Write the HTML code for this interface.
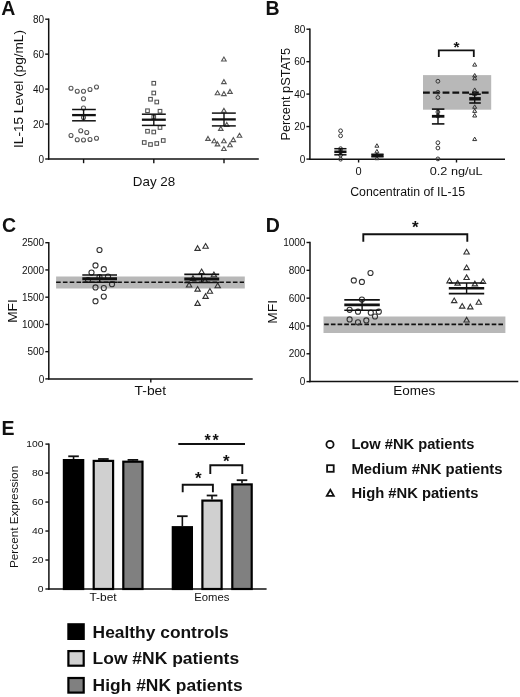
<!DOCTYPE html>
<html><head><meta charset="utf-8"><style>
html,body{margin:0;padding:0;background:#fff;}
body{width:520px;height:697px;overflow:hidden;}
svg{display:block;font-family:"Liberation Sans", sans-serif;will-change:transform;}
</style></head><body>
<svg width="520" height="697" viewBox="0 0 520 697">
<rect x="0" y="0" width="520" height="697" fill="#fff"/>
<text x="1.3" y="15" font-size="19.5" font-weight="bold" fill="#111">A</text>
<line x1="48.7" y1="18.5" x2="48.7" y2="159.7" stroke="#111" stroke-width="1.5"/>
<line x1="45.2" y1="19.2" x2="48.7" y2="19.2" stroke="#111" stroke-width="1.4"/>
<text x="44.1" y="22.8" font-size="10" text-anchor="end" fill="#111">80</text>
<line x1="45.2" y1="54.15" x2="48.7" y2="54.15" stroke="#111" stroke-width="1.4"/>
<text x="44.1" y="57.75" font-size="10" text-anchor="end" fill="#111">60</text>
<line x1="45.2" y1="89.1" x2="48.7" y2="89.1" stroke="#111" stroke-width="1.4"/>
<text x="44.1" y="92.7" font-size="10" text-anchor="end" fill="#111">40</text>
<line x1="45.2" y1="124.05" x2="48.7" y2="124.05" stroke="#111" stroke-width="1.4"/>
<text x="44.1" y="127.65" font-size="10" text-anchor="end" fill="#111">20</text>
<line x1="45.2" y1="159.0" x2="48.7" y2="159.0" stroke="#111" stroke-width="1.4"/>
<text x="44.1" y="162.6" font-size="10" text-anchor="end" fill="#111">0</text>
<line x1="48" y1="159.0" x2="258.8" y2="159.0" stroke="#111" stroke-width="1.5"/>
<line x1="83.6" y1="159.0" x2="83.6" y2="163.2" stroke="#111" stroke-width="1.4"/>
<line x1="153.8" y1="159.0" x2="153.8" y2="163.2" stroke="#111" stroke-width="1.4"/>
<line x1="224.0" y1="159.0" x2="224.0" y2="163.2" stroke="#111" stroke-width="1.4"/>
<text x="154.0" y="186.1" font-size="13" text-anchor="middle" textLength="42.4" lengthAdjust="spacingAndGlyphs" fill="#111">Day 28</text>
<text transform="translate(22.5,89.0) rotate(-90)" x="0" y="0" font-size="13.6" text-anchor="middle" fill="#111">IL-15 Level (pg/mL)</text>
<circle cx="71" cy="88.25" r="2.0" fill="none" stroke="#555" stroke-width="1.1"/>
<circle cx="77.25" cy="91.25" r="2.0" fill="none" stroke="#555" stroke-width="1.1"/>
<circle cx="83.5" cy="91.25" r="2.0" fill="none" stroke="#555" stroke-width="1.1"/>
<circle cx="90" cy="89.5" r="2.0" fill="none" stroke="#555" stroke-width="1.1"/>
<circle cx="96.5" cy="87" r="2.0" fill="none" stroke="#555" stroke-width="1.1"/>
<circle cx="83.5" cy="98.75" r="2.0" fill="none" stroke="#555" stroke-width="1.1"/>
<circle cx="83.5" cy="108" r="2.0" fill="none" stroke="#555" stroke-width="1.1"/>
<circle cx="83.5" cy="117.5" r="2.0" fill="none" stroke="#555" stroke-width="1.1"/>
<circle cx="80.75" cy="130.75" r="2.0" fill="none" stroke="#555" stroke-width="1.1"/>
<circle cx="86.75" cy="132.5" r="2.0" fill="none" stroke="#555" stroke-width="1.1"/>
<circle cx="71" cy="135.5" r="2.0" fill="none" stroke="#555" stroke-width="1.1"/>
<circle cx="77.25" cy="139.75" r="2.0" fill="none" stroke="#555" stroke-width="1.1"/>
<circle cx="83.5" cy="140" r="2.0" fill="none" stroke="#555" stroke-width="1.1"/>
<circle cx="90" cy="139.5" r="2.0" fill="none" stroke="#555" stroke-width="1.1"/>
<circle cx="96.5" cy="138.25" r="2.0" fill="none" stroke="#555" stroke-width="1.1"/>
<rect x="151.95" y="81.45" width="3.6" height="3.6" fill="none" stroke="#555" stroke-width="1.1"/>
<rect x="151.95" y="91.20" width="3.6" height="3.6" fill="none" stroke="#555" stroke-width="1.1"/>
<rect x="148.70" y="97.45" width="3.6" height="3.6" fill="none" stroke="#555" stroke-width="1.1"/>
<rect x="154.95" y="100.20" width="3.6" height="3.6" fill="none" stroke="#555" stroke-width="1.1"/>
<rect x="145.70" y="108.95" width="3.6" height="3.6" fill="none" stroke="#555" stroke-width="1.1"/>
<rect x="158.20" y="109.45" width="3.6" height="3.6" fill="none" stroke="#555" stroke-width="1.1"/>
<rect x="151.95" y="115.20" width="3.6" height="3.6" fill="none" stroke="#555" stroke-width="1.1"/>
<rect x="145.70" y="129.45" width="3.6" height="3.6" fill="none" stroke="#555" stroke-width="1.1"/>
<rect x="151.95" y="130.20" width="3.6" height="3.6" fill="none" stroke="#555" stroke-width="1.1"/>
<rect x="158.20" y="125.70" width="3.6" height="3.6" fill="none" stroke="#555" stroke-width="1.1"/>
<rect x="142.45" y="140.70" width="3.6" height="3.6" fill="none" stroke="#555" stroke-width="1.1"/>
<rect x="148.70" y="142.70" width="3.6" height="3.6" fill="none" stroke="#555" stroke-width="1.1"/>
<rect x="154.95" y="141.70" width="3.6" height="3.6" fill="none" stroke="#555" stroke-width="1.1"/>
<rect x="161.45" y="138.70" width="3.6" height="3.6" fill="none" stroke="#555" stroke-width="1.1"/>
<path d="M223.90 57.01 L226.20 60.99 L221.60 60.99 Z" fill="none" stroke="#555" stroke-width="1.1" stroke-linejoin="miter"/>
<path d="M223.90 79.61 L226.20 83.59 L221.60 83.59 Z" fill="none" stroke="#555" stroke-width="1.1" stroke-linejoin="miter"/>
<path d="M217.50 90.81 L219.80 94.79 L215.20 94.79 Z" fill="none" stroke="#555" stroke-width="1.1" stroke-linejoin="miter"/>
<path d="M223.90 91.61 L226.20 95.59 L221.60 95.59 Z" fill="none" stroke="#555" stroke-width="1.1" stroke-linejoin="miter"/>
<path d="M230.00 89.41 L232.30 93.39 L227.70 93.39 Z" fill="none" stroke="#555" stroke-width="1.1" stroke-linejoin="miter"/>
<path d="M223.90 108.31 L226.20 112.29 L221.60 112.29 Z" fill="none" stroke="#555" stroke-width="1.1" stroke-linejoin="miter"/>
<path d="M226.80 122.41 L229.10 126.39 L224.50 126.39 Z" fill="none" stroke="#555" stroke-width="1.1" stroke-linejoin="miter"/>
<path d="M220.80 126.41 L223.10 130.39 L218.50 130.39 Z" fill="none" stroke="#555" stroke-width="1.1" stroke-linejoin="miter"/>
<path d="M208.00 136.41 L210.30 140.39 L205.70 140.39 Z" fill="none" stroke="#555" stroke-width="1.1" stroke-linejoin="miter"/>
<path d="M214.20 138.81 L216.50 142.79 L211.90 142.79 Z" fill="none" stroke="#555" stroke-width="1.1" stroke-linejoin="miter"/>
<path d="M217.50 141.91 L219.80 145.89 L215.20 145.89 Z" fill="none" stroke="#555" stroke-width="1.1" stroke-linejoin="miter"/>
<path d="M223.90 138.81 L226.20 142.79 L221.60 142.79 Z" fill="none" stroke="#555" stroke-width="1.1" stroke-linejoin="miter"/>
<path d="M230.00 142.71 L232.30 146.69 L227.70 146.69 Z" fill="none" stroke="#555" stroke-width="1.1" stroke-linejoin="miter"/>
<path d="M233.30 137.61 L235.60 141.59 L231.00 141.59 Z" fill="none" stroke="#555" stroke-width="1.1" stroke-linejoin="miter"/>
<path d="M239.50 133.31 L241.80 137.29 L237.20 137.29 Z" fill="none" stroke="#555" stroke-width="1.1" stroke-linejoin="miter"/>
<path d="M223.90 146.51 L226.20 150.49 L221.60 150.49 Z" fill="none" stroke="#555" stroke-width="1.1" stroke-linejoin="miter"/>
<line x1="83.6" y1="109.5" x2="83.6" y2="120.8" stroke="#111" stroke-width="1.4"/>
<line x1="72.1" y1="109.5" x2="95.8" y2="109.5" stroke="#111" stroke-width="1.5"/>
<line x1="72.1" y1="120.8" x2="95.8" y2="120.8" stroke="#111" stroke-width="1.5"/>
<line x1="72.1" y1="115.1" x2="95.8" y2="115.1" stroke="#111" stroke-width="2.3"/>
<line x1="153.8" y1="114.2" x2="153.8" y2="125.4" stroke="#111" stroke-width="1.4"/>
<line x1="141.9" y1="114.2" x2="165.8" y2="114.2" stroke="#111" stroke-width="1.5"/>
<line x1="141.9" y1="125.4" x2="165.8" y2="125.4" stroke="#111" stroke-width="1.5"/>
<line x1="141.9" y1="119.7" x2="165.8" y2="119.7" stroke="#111" stroke-width="2.3"/>
<line x1="224.0" y1="113.1" x2="224.0" y2="125.9" stroke="#111" stroke-width="1.4"/>
<line x1="211.9" y1="113.1" x2="235.8" y2="113.1" stroke="#111" stroke-width="1.5"/>
<line x1="211.9" y1="125.9" x2="235.8" y2="125.9" stroke="#111" stroke-width="1.5"/>
<line x1="211.9" y1="119.4" x2="235.8" y2="119.4" stroke="#111" stroke-width="2.3"/>
<text x="265.6" y="15" font-size="19.5" font-weight="bold" fill="#111">B</text>
<line x1="309.9" y1="28.5" x2="309.9" y2="159.79999999999998" stroke="#111" stroke-width="1.5"/>
<line x1="306.4" y1="29.2" x2="309.9" y2="29.2" stroke="#111" stroke-width="1.4"/>
<text x="305.3" y="32.8" font-size="10" text-anchor="end" fill="#111">80</text>
<line x1="306.4" y1="61.65" x2="309.9" y2="61.65" stroke="#111" stroke-width="1.4"/>
<text x="305.3" y="65.25" font-size="10" text-anchor="end" fill="#111">60</text>
<line x1="306.4" y1="94.1" x2="309.9" y2="94.1" stroke="#111" stroke-width="1.4"/>
<text x="305.3" y="97.7" font-size="10" text-anchor="end" fill="#111">40</text>
<line x1="306.4" y1="126.55" x2="309.9" y2="126.55" stroke="#111" stroke-width="1.4"/>
<text x="305.3" y="130.15" font-size="10" text-anchor="end" fill="#111">20</text>
<line x1="306.4" y1="159.1" x2="309.9" y2="159.1" stroke="#111" stroke-width="1.4"/>
<text x="305.3" y="162.7" font-size="10" text-anchor="end" fill="#111">0</text>
<line x1="309.2" y1="159.2" x2="505" y2="159.2" stroke="#111" stroke-width="1.5"/>
<line x1="358.6" y1="159.2" x2="358.6" y2="162.5" stroke="#111" stroke-width="1.4"/>
<line x1="456.5" y1="159.2" x2="456.5" y2="162.5" stroke="#111" stroke-width="1.4"/>
<text x="358.6" y="175" font-size="11" text-anchor="middle" fill="#111">0</text>
<text x="456.2" y="175" font-size="11.5" text-anchor="middle" textLength="53" lengthAdjust="spacingAndGlyphs" fill="#111">0.2 ng/uL</text>
<text x="350.2" y="195.5" font-size="12.3" textLength="115" lengthAdjust="spacingAndGlyphs" fill="#111">Concentratin of IL-15</text>
<text transform="translate(289.8,94.2) rotate(-90)" x="0" y="0" font-size="12.8" text-anchor="middle" fill="#111">Percent pSTAT5</text>
<rect x="423" y="75.1" width="68.2" height="34.6" fill="#b8b8b8"/>
<line x1="423" y1="92.6" x2="490.5" y2="92.6" stroke="#111" stroke-width="2.2" stroke-dasharray="6.8 3.0"/>
<circle cx="340.6" cy="130.8" r="1.9" fill="none" stroke="#333" stroke-width="1.0"/>
<circle cx="340.6" cy="135.8" r="1.9" fill="none" stroke="#333" stroke-width="1.0"/>
<circle cx="340.6" cy="148.7" r="1.9" fill="none" stroke="#333" stroke-width="1.0"/>
<circle cx="340.6" cy="151.5" r="1.9" fill="none" stroke="#333" stroke-width="1.0"/>
<circle cx="340.6" cy="155" r="1.9" fill="none" stroke="#333" stroke-width="1.0"/>
<circle cx="340.6" cy="159.2" r="1.9" fill="none" stroke="#333" stroke-width="1.0"/>
<path d="M376.90 143.72 L378.90 147.19 L374.90 147.19 Z" fill="none" stroke="#333" stroke-width="1.0" stroke-linejoin="miter"/>
<path d="M376.90 149.42 L378.90 152.89 L374.90 152.89 Z" fill="none" stroke="#333" stroke-width="1.0" stroke-linejoin="miter"/>
<path d="M376.90 152.92 L378.90 156.39 L374.90 156.39 Z" fill="none" stroke="#333" stroke-width="1.0" stroke-linejoin="miter"/>
<path d="M376.90 156.22 L378.90 159.69 L374.90 159.69 Z" fill="none" stroke="#333" stroke-width="1.0" stroke-linejoin="miter"/>
<circle cx="437.9" cy="81.25" r="1.9" fill="none" stroke="#333" stroke-width="1.0"/>
<circle cx="437.9" cy="92.25" r="1.9" fill="none" stroke="#333" stroke-width="1.0"/>
<circle cx="437.9" cy="97.5" r="1.9" fill="none" stroke="#333" stroke-width="1.0"/>
<circle cx="437.9" cy="112" r="1.9" fill="none" stroke="#333" stroke-width="1.0"/>
<circle cx="437.9" cy="116" r="1.9" fill="none" stroke="#333" stroke-width="1.0"/>
<circle cx="437.9" cy="142.7" r="1.9" fill="none" stroke="#333" stroke-width="1.0"/>
<circle cx="437.9" cy="148" r="1.9" fill="none" stroke="#333" stroke-width="1.0"/>
<circle cx="437.9" cy="158.9" r="1.9" fill="none" stroke="#333" stroke-width="1.0"/>
<path d="M474.70 62.67 L476.70 66.14 L472.70 66.14 Z" fill="none" stroke="#333" stroke-width="1.0" stroke-linejoin="miter"/>
<path d="M474.70 73.52 L476.70 76.99 L472.70 76.99 Z" fill="none" stroke="#333" stroke-width="1.0" stroke-linejoin="miter"/>
<path d="M474.70 76.42 L476.70 79.89 L472.70 79.89 Z" fill="none" stroke="#333" stroke-width="1.0" stroke-linejoin="miter"/>
<path d="M474.70 87.92 L476.70 91.39 L472.70 91.39 Z" fill="none" stroke="#333" stroke-width="1.0" stroke-linejoin="miter"/>
<path d="M474.70 91.92 L476.70 95.39 L472.70 95.39 Z" fill="none" stroke="#333" stroke-width="1.0" stroke-linejoin="miter"/>
<path d="M474.70 104.82 L476.70 108.29 L472.70 108.29 Z" fill="none" stroke="#333" stroke-width="1.0" stroke-linejoin="miter"/>
<path d="M474.70 108.92 L476.70 112.39 L472.70 112.39 Z" fill="none" stroke="#333" stroke-width="1.0" stroke-linejoin="miter"/>
<path d="M474.70 113.52 L476.70 116.99 L472.70 116.99 Z" fill="none" stroke="#333" stroke-width="1.0" stroke-linejoin="miter"/>
<path d="M474.70 137.12 L476.70 140.59 L472.70 140.59 Z" fill="none" stroke="#333" stroke-width="1.0" stroke-linejoin="miter"/>
<line x1="340.5" y1="148.7" x2="340.5" y2="154.8" stroke="#111" stroke-width="1.4"/>
<line x1="334.3" y1="148.7" x2="346.5" y2="148.7" stroke="#111" stroke-width="1.5"/>
<line x1="334.3" y1="154.8" x2="346.5" y2="154.8" stroke="#111" stroke-width="1.5"/>
<line x1="334.3" y1="151.8" x2="346.5" y2="151.8" stroke="#111" stroke-width="2.6"/>
<line x1="377.3" y1="154.0" x2="377.3" y2="157.0" stroke="#111" stroke-width="1.4"/>
<line x1="371.3" y1="154.0" x2="383.6" y2="154.0" stroke="#111" stroke-width="1.0"/>
<line x1="371.3" y1="157.0" x2="383.6" y2="157.0" stroke="#111" stroke-width="1.0"/>
<line x1="371.3" y1="155.5" x2="383.6" y2="155.5" stroke="#111" stroke-width="3.0"/>
<line x1="438.0" y1="109.1" x2="438.0" y2="123.9" stroke="#111" stroke-width="1.4"/>
<line x1="431.9" y1="109.1" x2="444.4" y2="109.1" stroke="#111" stroke-width="1.6"/>
<line x1="431.9" y1="123.9" x2="444.4" y2="123.9" stroke="#111" stroke-width="1.6"/>
<line x1="431.9" y1="116.3" x2="444.4" y2="116.3" stroke="#111" stroke-width="2.8"/>
<line x1="474.7" y1="94.2" x2="474.7" y2="103.0" stroke="#111" stroke-width="1.4"/>
<line x1="469.2" y1="94.2" x2="480.8" y2="94.2" stroke="#111" stroke-width="1.6"/>
<line x1="469.2" y1="103.0" x2="480.8" y2="103.0" stroke="#111" stroke-width="1.6"/>
<line x1="469.2" y1="98.8" x2="480.8" y2="98.8" stroke="#111" stroke-width="3.4"/>
<path d="M438.8 57 V50.4 H473.8 V57" fill="none" stroke="#111" stroke-width="1.8"/>
<text x="456.5" y="52.18" font-size="15.5" text-anchor="middle" font-weight="bold" fill="#111">*</text>
<text x="2.0" y="231.6" font-size="19.5" font-weight="bold" fill="#111">C</text>
<line x1="48.8" y1="242.0" x2="48.8" y2="379.59999999999997" stroke="#111" stroke-width="1.5"/>
<line x1="45.3" y1="242.7" x2="48.8" y2="242.7" stroke="#111" stroke-width="1.4"/>
<text x="44.2" y="246.3" font-size="10" text-anchor="end" fill="#111">2500</text>
<line x1="45.3" y1="269.94" x2="48.8" y2="269.94" stroke="#111" stroke-width="1.4"/>
<text x="44.2" y="273.54" font-size="10" text-anchor="end" fill="#111">2000</text>
<line x1="45.3" y1="297.18" x2="48.8" y2="297.18" stroke="#111" stroke-width="1.4"/>
<text x="44.2" y="300.78" font-size="10" text-anchor="end" fill="#111">1500</text>
<line x1="45.3" y1="324.42" x2="48.8" y2="324.42" stroke="#111" stroke-width="1.4"/>
<text x="44.2" y="328.02" font-size="10" text-anchor="end" fill="#111">1000</text>
<line x1="45.3" y1="351.66" x2="48.8" y2="351.66" stroke="#111" stroke-width="1.4"/>
<text x="44.2" y="355.26" font-size="10" text-anchor="end" fill="#111">500</text>
<line x1="45.3" y1="378.9" x2="48.8" y2="378.9" stroke="#111" stroke-width="1.4"/>
<text x="44.2" y="382.5" font-size="10" text-anchor="end" fill="#111">0</text>
<line x1="48.1" y1="378.9" x2="252.7" y2="378.9" stroke="#111" stroke-width="1.5"/>
<line x1="150.8" y1="378.9" x2="150.8" y2="382.6" stroke="#111" stroke-width="1.4"/>
<text x="150.4" y="395.4" font-size="12.8" text-anchor="middle" textLength="31.6" lengthAdjust="spacingAndGlyphs" fill="#111">T-bet</text>
<text transform="translate(16.5,311.0) rotate(-90)" x="0" y="0" font-size="13" text-anchor="middle" textLength="23.6" lengthAdjust="spacingAndGlyphs" fill="#111">MFI</text>
<rect x="56.1" y="276.5" width="188.7" height="12.0" fill="#b8b8b8"/>
<line x1="56.1" y1="282.2" x2="244" y2="282.2" stroke="#111" stroke-width="1.6" stroke-dasharray="4.6 2.2"/>
<circle cx="99.5" cy="250" r="2.55" fill="none" stroke="#333" stroke-width="1.1"/>
<circle cx="95.5" cy="265.4" r="2.55" fill="none" stroke="#333" stroke-width="1.1"/>
<circle cx="103.8" cy="269.2" r="2.55" fill="none" stroke="#333" stroke-width="1.1"/>
<circle cx="91.5" cy="272.6" r="2.55" fill="none" stroke="#333" stroke-width="1.1"/>
<circle cx="112" cy="284.2" r="2.55" fill="none" stroke="#333" stroke-width="1.1"/>
<circle cx="95.5" cy="287.4" r="2.55" fill="none" stroke="#333" stroke-width="1.1"/>
<circle cx="103.8" cy="288" r="2.55" fill="none" stroke="#333" stroke-width="1.1"/>
<circle cx="103.8" cy="296.6" r="2.55" fill="none" stroke="#333" stroke-width="1.1"/>
<circle cx="95.5" cy="301.2" r="2.55" fill="none" stroke="#333" stroke-width="1.1"/>
<circle cx="99.5" cy="277" r="2.55" fill="none" stroke="#333" stroke-width="1.1"/>
<circle cx="108" cy="276.5" r="2.55" fill="none" stroke="#333" stroke-width="1.1"/>
<circle cx="88" cy="280" r="2.55" fill="none" stroke="#333" stroke-width="1.1"/>
<path d="M197.60 245.69 L200.30 250.37 L194.90 250.37 Z" fill="none" stroke="#333" stroke-width="1.1" stroke-linejoin="miter"/>
<path d="M205.60 243.59 L208.30 248.27 L202.90 248.27 Z" fill="none" stroke="#333" stroke-width="1.1" stroke-linejoin="miter"/>
<path d="M201.60 268.99 L204.30 273.67 L198.90 273.67 Z" fill="none" stroke="#333" stroke-width="1.1" stroke-linejoin="miter"/>
<path d="M213.90 272.09 L216.60 276.77 L211.20 276.77 Z" fill="none" stroke="#333" stroke-width="1.1" stroke-linejoin="miter"/>
<path d="M189.10 282.29 L191.80 286.97 L186.40 286.97 Z" fill="none" stroke="#333" stroke-width="1.1" stroke-linejoin="miter"/>
<path d="M217.70 283.09 L220.40 287.77 L215.00 287.77 Z" fill="none" stroke="#333" stroke-width="1.1" stroke-linejoin="miter"/>
<path d="M197.60 286.49 L200.30 291.17 L194.90 291.17 Z" fill="none" stroke="#333" stroke-width="1.1" stroke-linejoin="miter"/>
<path d="M209.90 288.59 L212.60 293.27 L207.20 293.27 Z" fill="none" stroke="#333" stroke-width="1.1" stroke-linejoin="miter"/>
<path d="M205.60 293.69 L208.30 298.37 L202.90 298.37 Z" fill="none" stroke="#333" stroke-width="1.1" stroke-linejoin="miter"/>
<path d="M197.60 300.69 L200.30 305.37 L194.90 305.37 Z" fill="none" stroke="#333" stroke-width="1.1" stroke-linejoin="miter"/>
<path d="M193.00 275.69 L195.70 280.37 L190.30 280.37 Z" fill="none" stroke="#333" stroke-width="1.1" stroke-linejoin="miter"/>
<path d="M205.00 277.69 L207.70 282.37 L202.30 282.37 Z" fill="none" stroke="#333" stroke-width="1.1" stroke-linejoin="miter"/>
<line x1="99.7" y1="275" x2="99.7" y2="282.3" stroke="#111" stroke-width="1.4"/>
<line x1="82.3" y1="275" x2="117" y2="275" stroke="#111" stroke-width="1.6"/>
<line x1="82.3" y1="282.3" x2="117" y2="282.3" stroke="#111" stroke-width="1.6"/>
<line x1="82.3" y1="278.8" x2="117" y2="278.8" stroke="#111" stroke-width="3.0"/>
<line x1="201.7" y1="274.4" x2="201.7" y2="282.5" stroke="#111" stroke-width="1.4"/>
<line x1="184.3" y1="274.4" x2="219.2" y2="274.4" stroke="#111" stroke-width="1.6"/>
<line x1="184.3" y1="282.5" x2="219.2" y2="282.5" stroke="#111" stroke-width="1.6"/>
<line x1="184.3" y1="279" x2="219.2" y2="279" stroke="#111" stroke-width="3.0"/>
<text x="265.8" y="231.8" font-size="19.5" font-weight="bold" fill="#111">D</text>
<line x1="310.0" y1="241.8" x2="310.0" y2="382.3" stroke="#111" stroke-width="1.5"/>
<line x1="306.5" y1="242.5" x2="310.0" y2="242.5" stroke="#111" stroke-width="1.4"/>
<text x="305.4" y="246.1" font-size="10" text-anchor="end" fill="#111">1000</text>
<line x1="306.5" y1="270.32" x2="310.0" y2="270.32" stroke="#111" stroke-width="1.4"/>
<text x="305.4" y="273.92" font-size="10" text-anchor="end" fill="#111">800</text>
<line x1="306.5" y1="298.14" x2="310.0" y2="298.14" stroke="#111" stroke-width="1.4"/>
<text x="305.4" y="301.74" font-size="10" text-anchor="end" fill="#111">600</text>
<line x1="306.5" y1="325.96" x2="310.0" y2="325.96" stroke="#111" stroke-width="1.4"/>
<text x="305.4" y="329.56" font-size="10" text-anchor="end" fill="#111">400</text>
<line x1="306.5" y1="353.78" x2="310.0" y2="353.78" stroke="#111" stroke-width="1.4"/>
<text x="305.4" y="357.38" font-size="10" text-anchor="end" fill="#111">200</text>
<line x1="306.5" y1="381.6" x2="310.0" y2="381.6" stroke="#111" stroke-width="1.4"/>
<text x="305.4" y="385.2" font-size="10" text-anchor="end" fill="#111">0</text>
<line x1="309.3" y1="381.6" x2="518.3" y2="381.6" stroke="#111" stroke-width="1.5"/>
<text x="414.3" y="395.2" font-size="13" text-anchor="middle" textLength="42" lengthAdjust="spacingAndGlyphs" fill="#111">Eomes</text>
<text transform="translate(276.8,311.9) rotate(-90)" x="0" y="0" font-size="13.3" text-anchor="middle" textLength="23.8" lengthAdjust="spacingAndGlyphs" fill="#111">MFI</text>
<rect x="323.5" y="316.5" width="181.9" height="16.5" fill="#b8b8b8"/>
<line x1="324.2" y1="324.4" x2="505" y2="324.4" stroke="#111" stroke-width="1.6" stroke-dasharray="4.6 2.1"/>
<circle cx="353.8" cy="280.4" r="2.55" fill="none" stroke="#333" stroke-width="1.1"/>
<circle cx="361.9" cy="281.9" r="2.55" fill="none" stroke="#333" stroke-width="1.1"/>
<circle cx="370.5" cy="273" r="2.55" fill="none" stroke="#333" stroke-width="1.1"/>
<circle cx="361.9" cy="299.6" r="2.55" fill="none" stroke="#333" stroke-width="1.1"/>
<circle cx="349.6" cy="309.8" r="2.55" fill="none" stroke="#333" stroke-width="1.1"/>
<circle cx="358" cy="311.7" r="2.55" fill="none" stroke="#333" stroke-width="1.1"/>
<circle cx="370.8" cy="312.7" r="2.55" fill="none" stroke="#333" stroke-width="1.1"/>
<circle cx="378.8" cy="311.7" r="2.55" fill="none" stroke="#333" stroke-width="1.1"/>
<circle cx="375" cy="316.5" r="2.55" fill="none" stroke="#333" stroke-width="1.1"/>
<circle cx="349.6" cy="319.4" r="2.55" fill="none" stroke="#333" stroke-width="1.1"/>
<circle cx="358" cy="322.3" r="2.55" fill="none" stroke="#333" stroke-width="1.1"/>
<circle cx="366.3" cy="320.4" r="2.55" fill="none" stroke="#333" stroke-width="1.1"/>
<path d="M466.60 249.29 L469.30 253.97 L463.90 253.97 Z" fill="none" stroke="#333" stroke-width="1.1" stroke-linejoin="miter"/>
<path d="M466.60 264.99 L469.30 269.67 L463.90 269.67 Z" fill="none" stroke="#333" stroke-width="1.1" stroke-linejoin="miter"/>
<path d="M466.60 274.89 L469.30 279.57 L463.90 279.57 Z" fill="none" stroke="#333" stroke-width="1.1" stroke-linejoin="miter"/>
<path d="M449.50 278.19 L452.20 282.87 L446.80 282.87 Z" fill="none" stroke="#333" stroke-width="1.1" stroke-linejoin="miter"/>
<path d="M457.60 280.49 L460.30 285.17 L454.90 285.17 Z" fill="none" stroke="#333" stroke-width="1.1" stroke-linejoin="miter"/>
<path d="M474.90 281.19 L477.60 285.87 L472.20 285.87 Z" fill="none" stroke="#333" stroke-width="1.1" stroke-linejoin="miter"/>
<path d="M483.00 278.89 L485.70 283.57 L480.30 283.57 Z" fill="none" stroke="#333" stroke-width="1.1" stroke-linejoin="miter"/>
<path d="M454.20 297.99 L456.90 302.67 L451.50 302.67 Z" fill="none" stroke="#333" stroke-width="1.1" stroke-linejoin="miter"/>
<path d="M462.20 303.49 L464.90 308.17 L459.50 308.17 Z" fill="none" stroke="#333" stroke-width="1.1" stroke-linejoin="miter"/>
<path d="M470.30 304.19 L473.00 308.87 L467.60 308.87 Z" fill="none" stroke="#333" stroke-width="1.1" stroke-linejoin="miter"/>
<path d="M478.80 299.59 L481.50 304.27 L476.10 304.27 Z" fill="none" stroke="#333" stroke-width="1.1" stroke-linejoin="miter"/>
<path d="M466.60 317.39 L469.30 322.07 L463.90 322.07 Z" fill="none" stroke="#333" stroke-width="1.1" stroke-linejoin="miter"/>
<line x1="362.1" y1="299.9" x2="362.1" y2="310.3" stroke="#111" stroke-width="1.4"/>
<line x1="344.3" y1="299.9" x2="379.8" y2="299.9" stroke="#111" stroke-width="1.6"/>
<line x1="344.3" y1="310.3" x2="379.8" y2="310.3" stroke="#111" stroke-width="1.6"/>
<line x1="344.3" y1="304.9" x2="379.8" y2="304.9" stroke="#111" stroke-width="2.6"/>
<line x1="466.6" y1="283.0" x2="466.6" y2="293.6" stroke="#111" stroke-width="1.4"/>
<line x1="448.8" y1="283.0" x2="484.2" y2="283.0" stroke="#111" stroke-width="1.6"/>
<line x1="448.8" y1="293.6" x2="484.2" y2="293.6" stroke="#111" stroke-width="1.6"/>
<line x1="448.8" y1="288.2" x2="484.2" y2="288.2" stroke="#111" stroke-width="2.6"/>
<path d="M363.3 241.8 V234.3 H467.3 V241.8" fill="none" stroke="#111" stroke-width="1.9"/>
<text x="415.4" y="233.12" font-size="17" text-anchor="middle" font-weight="bold" fill="#111">*</text>
<text x="1.6" y="434.8" font-size="19.5" font-weight="bold" fill="#111">E</text>
<line x1="48.9" y1="443.40000000000003" x2="48.9" y2="589.7" stroke="#111" stroke-width="1.5"/>
<line x1="45.4" y1="444.1" x2="48.9" y2="444.1" stroke="#111" stroke-width="1.4"/>
<text x="43.5" y="447.45" font-size="9.3" text-anchor="end" textLength="17.25" lengthAdjust="spacingAndGlyphs" fill="#111">100</text>
<line x1="45.4" y1="473.08" x2="48.9" y2="473.08" stroke="#111" stroke-width="1.4"/>
<text x="43.5" y="476.43" font-size="9.3" text-anchor="end" textLength="11.5" lengthAdjust="spacingAndGlyphs" fill="#111">80</text>
<line x1="45.4" y1="502.06" x2="48.9" y2="502.06" stroke="#111" stroke-width="1.4"/>
<text x="43.5" y="505.41" font-size="9.3" text-anchor="end" textLength="11.5" lengthAdjust="spacingAndGlyphs" fill="#111">60</text>
<line x1="45.4" y1="531.04" x2="48.9" y2="531.04" stroke="#111" stroke-width="1.4"/>
<text x="43.5" y="534.39" font-size="9.3" text-anchor="end" textLength="11.5" lengthAdjust="spacingAndGlyphs" fill="#111">40</text>
<line x1="45.4" y1="560.02" x2="48.9" y2="560.02" stroke="#111" stroke-width="1.4"/>
<text x="43.5" y="563.37" font-size="9.3" text-anchor="end" textLength="11.5" lengthAdjust="spacingAndGlyphs" fill="#111">20</text>
<line x1="45.4" y1="589.0" x2="48.9" y2="589.0" stroke="#111" stroke-width="1.4"/>
<text x="43.5" y="592.35" font-size="9.3" text-anchor="end" textLength="5.75" lengthAdjust="spacingAndGlyphs" fill="#111">0</text>
<line x1="48.2" y1="589.0" x2="266.6" y2="589.0" stroke="#111" stroke-width="1.5"/>
<text x="103.0" y="600.8" font-size="11" text-anchor="middle" textLength="27.2" lengthAdjust="spacingAndGlyphs" fill="#111">T-bet</text>
<text x="211.9" y="600.8" font-size="11" text-anchor="middle" textLength="35.2" lengthAdjust="spacingAndGlyphs" fill="#111">Eomes</text>
<text transform="translate(17.5,516.95) rotate(-90)" x="0" y="0" font-size="11.8" text-anchor="middle" fill="#111">Percent Expression</text>
<line x1="73.55" y1="456.3" x2="73.55" y2="459" stroke="#111" stroke-width="1.6"/>
<line x1="68.25" y1="456.3" x2="78.85" y2="456.3" stroke="#111" stroke-width="1.8"/>
<rect x="63.9" y="460.1" width="19.3" height="128.9" fill="#000" stroke="#000" stroke-width="2.2"/>
<line x1="103.4" y1="459.0" x2="103.4" y2="459.8" stroke="#111" stroke-width="1.6"/>
<line x1="98.10000000000001" y1="459.0" x2="108.7" y2="459.0" stroke="#111" stroke-width="1.8"/>
<rect x="93.69999999999999" y="460.90000000000003" width="19.40000000000001" height="128.1" fill="#d0d0d0" stroke="#000" stroke-width="2.2"/>
<line x1="132.9" y1="459.9" x2="132.9" y2="460.6" stroke="#111" stroke-width="1.6"/>
<line x1="127.60000000000001" y1="459.9" x2="138.20000000000002" y2="459.9" stroke="#111" stroke-width="1.8"/>
<rect x="123.3" y="461.70000000000005" width="19.199999999999992" height="127.29999999999998" fill="#808080" stroke="#000" stroke-width="2.2"/>
<line x1="182.35" y1="516.2" x2="182.35" y2="526.1" stroke="#111" stroke-width="1.6"/>
<line x1="177.04999999999998" y1="516.2" x2="187.65" y2="516.2" stroke="#111" stroke-width="1.8"/>
<rect x="172.79999999999998" y="527.2" width="19.100000000000012" height="61.799999999999976" fill="#000" stroke="#000" stroke-width="2.2"/>
<line x1="212.0" y1="495.5" x2="212.0" y2="499.5" stroke="#111" stroke-width="1.6"/>
<line x1="206.7" y1="495.5" x2="217.3" y2="495.5" stroke="#111" stroke-width="1.8"/>
<rect x="202.4" y="500.6" width="19.199999999999978" height="88.4" fill="#d0d0d0" stroke="#000" stroke-width="2.2"/>
<line x1="242.0" y1="480.2" x2="242.0" y2="483.3" stroke="#111" stroke-width="1.6"/>
<line x1="236.7" y1="480.2" x2="247.3" y2="480.2" stroke="#111" stroke-width="1.8"/>
<rect x="232.29999999999998" y="484.40000000000003" width="19.400000000000023" height="104.6" fill="#808080" stroke="#000" stroke-width="2.2"/>
<line x1="178.3" y1="444" x2="245" y2="444" stroke="#111" stroke-width="2"/>
<text x="207.6" y="446.36" font-size="16" text-anchor="middle" font-weight="bold" fill="#111">*</text>
<text x="215.5" y="446.36" font-size="16" text-anchor="middle" font-weight="bold" fill="#111">*</text>
<path d="M182.7 492.3 V484.8 H212.9 V492.3" fill="none" stroke="#111" stroke-width="1.9"/>
<text x="198.2" y="484.42" font-size="17" text-anchor="middle" font-weight="bold" fill="#111">*</text>
<path d="M210.3 474 V465.2 H242.3 V474" fill="none" stroke="#111" stroke-width="1.9"/>
<text x="226.4" y="466.92" font-size="17" text-anchor="middle" font-weight="bold" fill="#111">*</text>
<circle cx="330" cy="444.4" r="3.6" fill="none" stroke="#111" stroke-width="1.8"/>
<rect x="327.10" y="465.20" width="6.6" height="6.6" fill="none" stroke="#111" stroke-width="1.8"/>
<path d="M330.30 489.76 L333.80 495.82 L326.80 495.82 Z" fill="none" stroke="#111" stroke-width="1.8" stroke-linejoin="miter"/>
<text x="351.4" y="449.4" font-size="14.6" font-weight="bold" textLength="123.0" lengthAdjust="spacingAndGlyphs" fill="#111">Low #NK patients</text>
<text x="351.4" y="474.3" font-size="14.6" font-weight="bold" textLength="151.2" lengthAdjust="spacingAndGlyphs" fill="#111">Medium #NK patients</text>
<text x="351.4" y="498.2" font-size="14.6" font-weight="bold" textLength="127.1" lengthAdjust="spacingAndGlyphs" fill="#111">High #NK patients</text>
<rect x="68.4" y="624.3000000000001" width="15.3" height="14.6" fill="#000" stroke="#000" stroke-width="2.2"/>
<rect x="68.4" y="651.1" width="15.3" height="14.6" fill="#d0d0d0" stroke="#000" stroke-width="2.2"/>
<rect x="68.4" y="678.0" width="15.3" height="14.6" fill="#808080" stroke="#000" stroke-width="2.2"/>
<text x="92.6" y="637.5" font-size="17" font-weight="bold" textLength="136.2" lengthAdjust="spacingAndGlyphs" fill="#111">Healthy controls</text>
<text x="92.6" y="664.2" font-size="17" font-weight="bold" textLength="146.5" lengthAdjust="spacingAndGlyphs" fill="#111">Low #NK patients</text>
<text x="92.6" y="691.2" font-size="17" font-weight="bold" textLength="150.0" lengthAdjust="spacingAndGlyphs" fill="#111">High #NK patients</text>
</svg>
</body></html>
